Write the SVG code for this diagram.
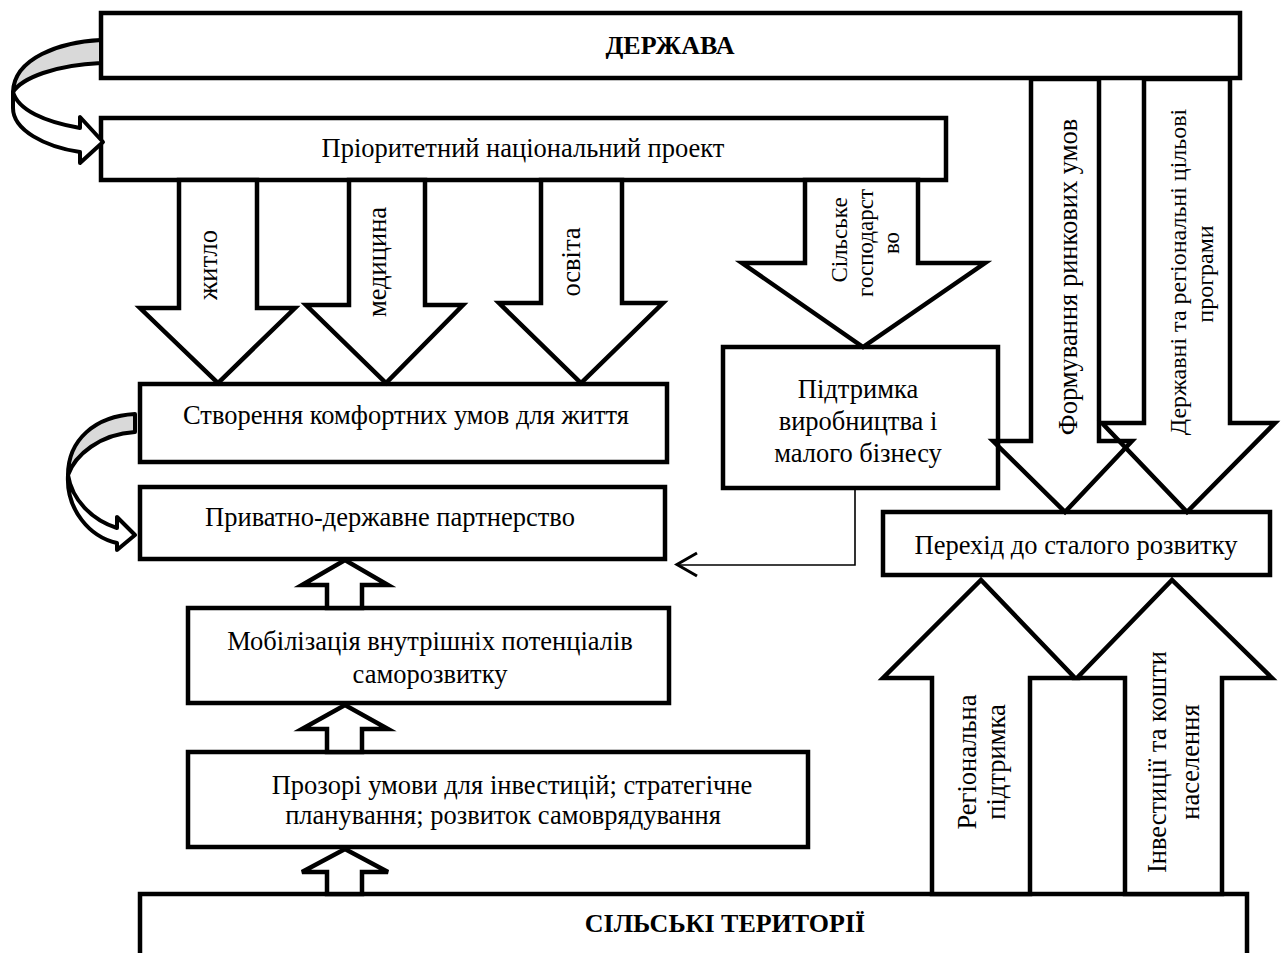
<svg xmlns="http://www.w3.org/2000/svg" width="1282" height="953" viewBox="0 0 1282 953">
<style>
.box{fill:#fff;stroke:#000;stroke-width:4.5}
.ba{fill:#fff;stroke:#000;stroke-width:4.5;stroke-linejoin:miter}
.bn{fill:none;stroke:#000;stroke-width:4.5;stroke-linejoin:miter}
.t{font-family:"Liberation Serif","Times New Roman",serif;font-size:26.5px;fill:#000;text-anchor:middle}
.b{font-weight:bold;font-size:26px}
.s{font-size:23px}
.m{font-size:24px}
.thin{fill:none;stroke:#000;stroke-width:1.6}
</style>
<rect width="1282" height="953" fill="#fff"/>
<g id="derzhava"><rect class="box" x="101" y="13" width="1139" height="65"/><text class="t b" x="670" y="54">ДЕРЖАВА</text></g>
<g id="proekt"><rect class="box" x="101" y="118" width="845" height="62"/><text class="t" x="523" y="157">Пріоритетний національний проект</text></g>
<g id="komfort"><rect class="box" x="140" y="384" width="527" height="78"/><text class="t" x="406" y="424">Створення комфортних умов для життя</text></g>
<g id="partner"><rect class="box" x="140" y="487" width="525" height="72"/><text class="t" x="390" y="526">Приватно-державне партнерство</text></g>
<g id="mobil"><rect class="box" x="188" y="608" width="481" height="95"/><text class="t" x="430" y="650">Мобілізація внутрішніх потенціалів</text><text class="t" x="430" y="683">саморозвитку</text></g>
<g id="prozori"><rect class="box" x="188" y="752" width="620" height="95"/><text class="t" x="512" y="794">Прозорі умови для інвестицій; стратегічне</text><text class="t" x="503" y="824">планування; розвиток самоврядування</text></g>
<g id="silski"><rect class="box" x="140" y="894" width="1107" height="70"/><text class="t b" x="725" y="932">СІЛЬСЬКІ ТЕРИТОРІЇ</text></g>
<g id="pidtrymka"><rect class="box" x="723" y="347" width="275" height="141"/><text class="t" x="858" y="398">Підтримка</text><text class="t" x="858" y="430">виробництва і</text><text class="t" x="858" y="462">малого бізнесу</text></g>
<g id="perehid"><rect class="box" x="883" y="512" width="387" height="63"/><text class="t" x="1076" y="554">Перехід до сталого розвитку</text></g>
<g id="connectors">
<g id="loop1"><path d="M101,40 C60,42 14,58 13,92 C22,78 55,65 101,63 Z" fill="#d9d9d9" stroke="#000" stroke-width="4" stroke-linejoin="round"/><path d="M13,92 L13,108 C13,130 45,147 80,152 L80,163 L103,142 L80,117 L80,128 C45,122 18,110 13,92 Z" fill="#fff" stroke="#000" stroke-width="4" stroke-linejoin="round"/></g>
<g id="loop2"><path d="M135,414 C95,416 68,440 68,475 C75,455 100,434 135,432 Z" fill="#d9d9d9" stroke="#000" stroke-width="4" stroke-linejoin="round"/><path d="M68,475 C66,510 90,537 117,543 L117,550 L135,535 L117,517 L117,528 C92,520 72,500 68,475 Z" fill="#fff" stroke="#000" stroke-width="4" stroke-linejoin="round"/></g>
<g id="a-zhytlo"><polygon class="ba" points="179,180 257,180 257,308 295,308 218,383 140,308 179,308"/><text class="t" transform="translate(217,265) rotate(-90)">житло</text></g>
<g id="a-medytsyna"><polygon class="ba" points="349,180 425,180 425,305 463,305 386,383 306,305 349,305"/><text class="t" transform="translate(386,262) rotate(-90)">медицина</text></g>
<g id="a-osvita"><polygon class="ba" points="541,180 622,180 622,303 663,303 581,383 499,303 541,303"/><text class="t" transform="translate(580,262) rotate(-90)">освіта</text></g>
<g id="a-silske"><polygon class="ba" points="805,180 918,180 918,263 985,263 863,347 742,263 805,263"/><text class="t s" transform="translate(847,240) rotate(-90)">Сільське</text><text class="t s" transform="translate(873,243) rotate(-90)">господарст</text><text class="t s" transform="translate(899,243) rotate(-90)">во</text></g>
<g id="a-formuv"><polygon class="bn" points="1031,79 1099,79 1099,441 1132,441 1065,512 993,441 1031,441"/><text class="t" transform="translate(1077,277) rotate(-90)">Формування ринкових умов</text></g>
<g id="a-derzh"><polygon class="bn" points="1144,79 1230,79 1230,423 1275,423 1187,512 1102,423 1144,423"/><text class="t m" transform="translate(1186,272) rotate(-90)">Державні та регіональні цільові</text><text class="t m" transform="translate(1213,274) rotate(-90)">програми</text></g>
<g id="a-region"><polygon class="ba" points="932,894 932,678 883,678 981,580 1075,678 1030,678 1030,894"/><text class="t" transform="translate(976,762) rotate(-90)">Регіональна</text><text class="t" transform="translate(1005,762) rotate(-90)">підтримка</text></g>
<g id="a-invest"><polygon class="ba" points="1125,894 1125,678 1077,678 1172,580 1272,678 1222,678 1222,894"/><text class="t" transform="translate(1166,762) rotate(-90)">Інвестиції та кошти</text><text class="t" transform="translate(1199,762) rotate(-90)">населення</text></g>
<g id="up1"><polygon class="ba" points="327,608 327,585 302,585 345,560 388,585 362,585 362,608"/></g>
<g id="up2"><polygon class="ba" points="327,752 327,729 302,729 345,705 388,729 362,729 362,752"/></g>
<g id="up3"><polygon class="ba" points="327,894 327,872 302,872 345,849 388,872 362,872 362,894"/></g>
<g id="link"><polyline class="thin" points="855,488 855,565 677,565"/><polyline points="697,553 677,564.5 697,576" fill="none" stroke="#000" stroke-width="3"/></g>
</g>
</svg>
